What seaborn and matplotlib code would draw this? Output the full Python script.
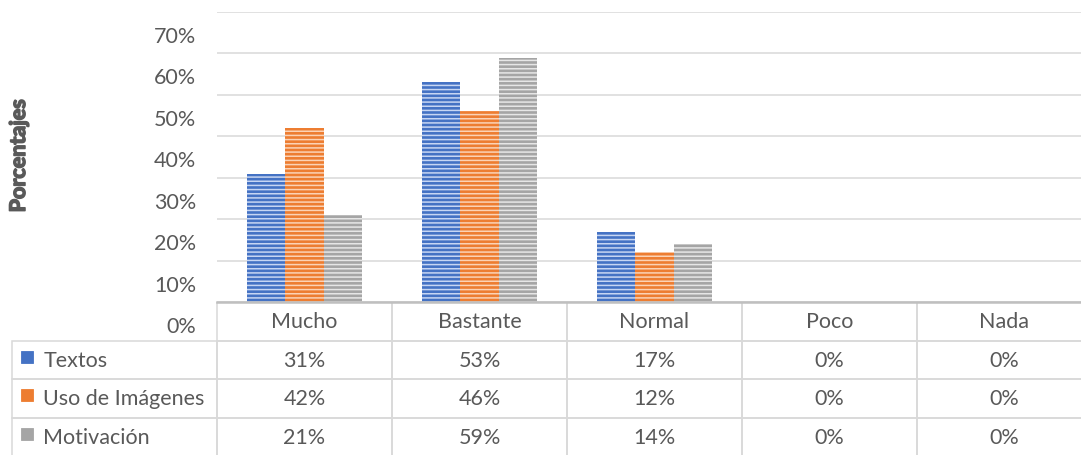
import numpy as np
import pandas as pd
import matplotlib
matplotlib.use("Agg")
import matplotlib.pyplot as plt
import matplotlib.transforms as mtransforms
import matplotlib.patheffects as pe
from matplotlib.table import Table
from matplotlib.patches import Rectangle
import seaborn as sns

# ---- data ----
categories = ["Mucho", "Bastante", "Normal", "Poco", "Nada"]
series_names = ["Textos", "Uso de Imágenes", "Motivación"]
textos = [31, 53, 17, 0, 0]
uso_imagenes = [42, 46, 12, 0, 0]
motivacion = [21, 59, 14, 0, 0]
y_ticks = [0, 10, 20, 30, 40, 50, 60, 70]

# ---- style ----
base_colors = ["#4472C4", "#ED7D31", "#A5A5A5"]
stripe_colors = ["#c7d6f3", "#fbd3b6", "#e6e6e6"]
text_color = "#595959"
grid_color = "#d9d9d9"
font_size = 15.5

sns.set_theme(style="white")
plt.rcParams["font.family"] = ["Lato", "DejaVu Sans"]
plt.rcParams["hatch.linewidth"] = 1.1

values = [textos, uso_imagenes, motivacion]
df = pd.DataFrame({
    "categoria": np.tile(categories, len(series_names)),
    "serie": np.repeat(series_names, len(categories)),
    "valor": np.concatenate([np.array(v, dtype=float) / 100 for v in values]),
})

W, H, DPI = 1081, 456, 100
fig = plt.figure(figsize=(W / DPI, H / DPI), dpi=DPI)

# plot area in pixels
ax_left, ax_right, ax_top, ax_bottom = 217, 1092, 13, 303
ax = fig.add_axes([ax_left / W, 1 - ax_bottom / H,
                   (ax_right - ax_left) / W, (ax_bottom - ax_top) / H])

sns.barplot(data=df, x="categoria", y="valor", hue="serie",
            order=categories, hue_order=series_names,
            palette=base_colors, saturation=1, width=0.66,
            legend=False, ax=ax, errorbar=None)

# striped fill for every series
for cont, sc in zip(ax.containers, stripe_colors):
    for bar in cont:
        bar.set_hatch("----")
        bar.set_edgecolor(sc)
        bar.set_linewidth(0)

ax.set_xlim(-0.5, len(categories) - 0.5)
ax.set_ylim(0, 0.70)
ax.set_yticks([t / 100 for t in y_ticks])
ax.set_yticklabels([f"{t}%" for t in y_ticks])
ax.tick_params(axis="y", length=0, pad=15, labelsize=font_size,
               labelcolor=text_color)
ax.tick_params(axis="x", length=0, labelbottom=False)
ax.set_xlabel("")

# tick labels sit half a step below their gridlines
shift = mtransforms.ScaledTranslation(0, -0.22, fig.dpi_scale_trans)
for lab in ax.get_yticklabels():
    lab.set_transform(lab.get_transform() + shift)

ax.yaxis.grid(True, color=grid_color, linewidth=1.1)
ax.set_axisbelow(True)
for s in ["left", "right", "top"]:
    ax.spines[s].set_visible(False)
ax.spines["bottom"].set_color("#bfbfbf")
ax.spines["bottom"].set_linewidth(1.8)

# axis title, thickened with a stroke of the same colour
ylab = ax.set_ylabel("Porcentajes", fontsize=15.5, fontweight="bold",
                     color=text_color)
ylab.set_path_effects([pe.withStroke(linewidth=1.1, foreground=text_color)])
ax.yaxis.set_label_coords((29 - ax_left) / (ax_right - ax_left),
                          (ax_bottom - 157) / (ax_bottom - ax_top))

# ---- data table under the plot ----
tab_left, tab_bottom = 12, 457
label_w, col_w, row_h = ax_left - tab_left, (ax_right - ax_left) / len(categories), 38.5
aw, ah = ax_right - ax_left, ax_bottom - ax_top
table = Table(ax, bbox=[(tab_left - ax_left) / aw, -(tab_bottom - ax_bottom) / ah,
                        (ax_right - tab_left) / aw, (tab_bottom - ax_bottom) / ah])

hdr = table.add_cell(0, 0, width=label_w, height=row_h, text="", loc="left")
hdr.visible_edges = ""
for j, cat in enumerate(categories):
    c = table.add_cell(0, j + 1, width=col_w, height=row_h, text=cat, loc="center")
    c.visible_edges = "LRB"
for i, (name, vals) in enumerate(zip(series_names, values)):
    c = table.add_cell(i + 1, 0, width=label_w, height=row_h, text=name, loc="left")
    c.PAD = 0.152
    for j, v in enumerate(vals):
        table.add_cell(i + 1, j + 1, width=col_w, height=row_h,
                       text=f"{v}%", loc="center")

table.auto_set_font_size(False)
table.set_fontsize(font_size)
for cell in table.get_celld().values():
    cell.set_edgecolor(grid_color)
    cell.set_linewidth(1.1)
    cell.set_facecolor("none")
    cell.get_text().set_color(text_color)
ax.add_table(table)

# series keys in the label column
sq = 12
for i, (bc, sc) in enumerate(zip(base_colors, stripe_colors)):
    cy = ax_bottom + row_h * (i + 1) + row_h / 2 - 3
    x0 = (21 - ax_left) / aw
    y0 = (ax_bottom - (cy + sq / 2)) / ah
    ax.add_patch(Rectangle((x0, y0), sq / aw, sq / ah, transform=ax.transAxes,
                           facecolor=bc, edgecolor=bc, linewidth=0.6,
                           clip_on=False))

fig.savefig("out.png", dpi=DPI)
